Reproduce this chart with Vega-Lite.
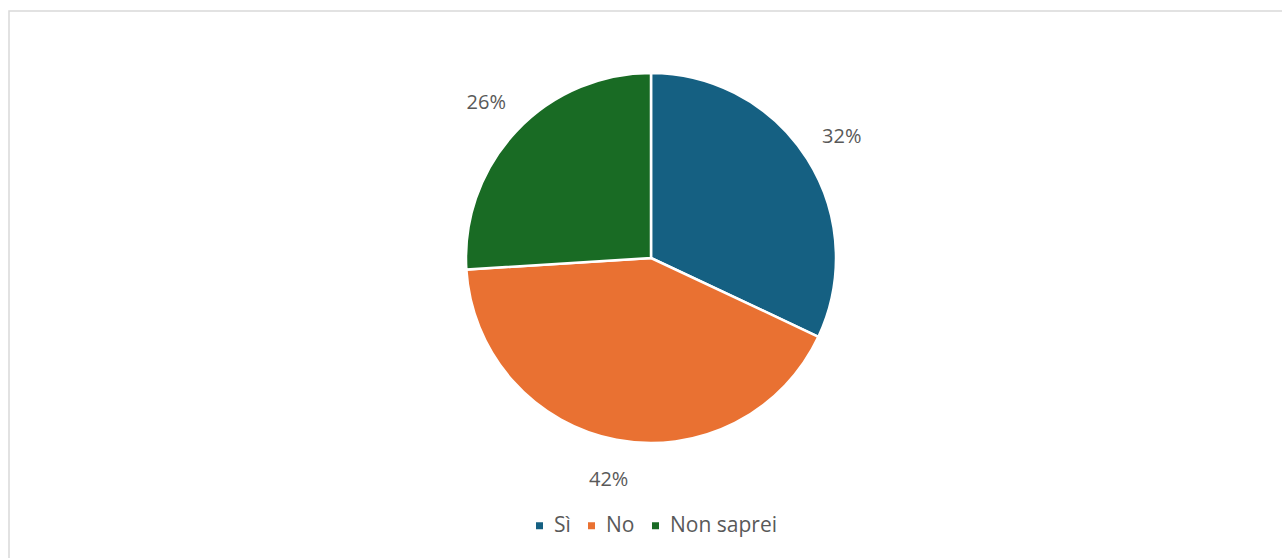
{
  "$schema": "https://vega.github.io/schema/vega-lite/v6.json",
  "width": 1300,
  "height": 600,
  "autosize": {"type": "none"},
  "padding": {"left": 9, "top": 11, "right": -27, "bottom": -53},
  "background": "white",
  "config": {
    "view": {"stroke": "#d9d9d9", "strokeWidth": 1.5},
    "text": {"font": "Open Sans"}
  },
  "data": {
    "values": [
      {"cat": "Sì", "v": 0.32, "o": 1},
      {"cat": "No", "v": 0.42, "o": 2},
      {"cat": "Non saprei", "v": 0.26, "o": 3}
    ]
  },
  "encoding": {
    "theta": {"field": "v", "type": "quantitative", "stack": true},
    "order": {"field": "o", "type": "quantitative"},
    "x": {"value": 642},
    "y": {"value": 247}
  },
  "layer": [
    {
      "mark": {"type": "arc", "outerRadius": 185, "stroke": "white", "strokeWidth": 2.5},
      "encoding": {
        "color": {
          "field": "cat",
          "type": "nominal",
          "scale": {"domain": ["Sì", "No", "Non saprei"], "range": ["#156082", "#E97132", "#196B24"]},
          "legend": {
            "title": null,
            "orient": "none",
            "legendX": 520,
            "legendY": 504,
            "direction": "horizontal",
            "symbolType": "square",
            "symbolSize": 49,
            "symbolStrokeWidth": 0,
            "labelFontSize": 21,
            "labelFont": "Open Sans",
            "labelColor": "#595959",
            "labelOffset": 4,
            "columnPadding": 10,
            "padding": 0
          }
        }
      }
    },
    {
      "mark": {"type": "text", "radius": 226, "fontSize": 20, "font": "Open Sans", "fill": "#595959"},
      "encoding": {
        "text": {"field": "v", "type": "quantitative", "format": ".0%"}
      }
    }
  ]
}
